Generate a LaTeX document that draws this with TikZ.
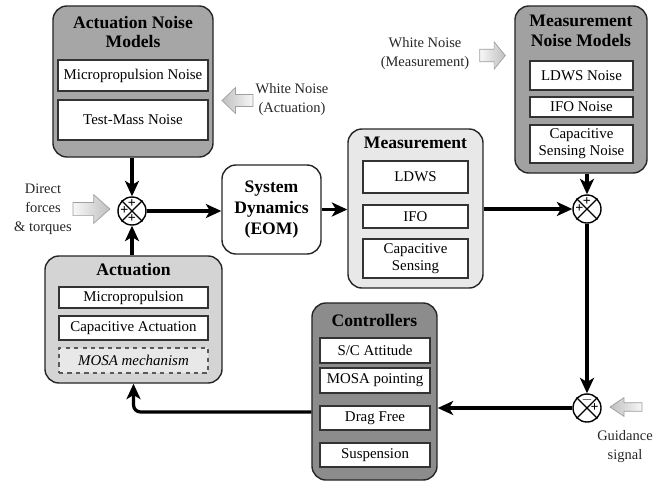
\documentclass[tikz,border=0pt]{standalone}
\usepackage{fontspec}
\setmainfont{Liberation Serif}
\usepackage{tikz}
\usetikzlibrary{positioning, arrows.meta, shapes.geometric, calc}

\begin{document}
\begin{tikzpicture}[
  x=0.025cm, y=-0.025cm,
  outer/.style={draw=black!85, line width=1pt, rounded corners=10pt},
  inbox/.style={draw=black!80, fill=white, line width=0.75pt, align=center,
               font=\fontsize{10.6}{12}\selectfont, inner sep=1pt},
  ttl/.style={font=\fontsize{12.5}{14.2}\selectfont\bfseries, align=center, inner sep=0pt},
  lbl/.style={font=\fontsize{10.3}{13.5}\selectfont, align=center, text=black!85},
  sumj/.style={circle, draw, fill=white, line width=1pt, minimum size=0.7cm, inner sep=0pt},
  sgn/.style={font=\fontsize{10}{10}\selectfont\bfseries, inner sep=0pt},
  flow/.style={line width=2.3pt, -{Stealth[length=11pt, width=10pt, inset=3pt]}},
  gright/.style={draw=gray!75, line width=0.5pt, left color=gray!6, right color=gray!50},
  gleft/.style={draw=gray!75, line width=0.5pt, left color=gray!50, right color=gray!6},
  rarrow/.pic={\path[pic actions] (-16,-6) -- (2,-6) -- (2,-13) -- (16,0) -- (2,13) -- (2,6) -- (-16,6) -- cycle;},
  larrow/.pic={\path[pic actions] (16,-6) -- (-2,-6) -- (-2,-13) -- (-16,0) -- (-2,13) -- (-2,6) -- (16,6) -- cycle;},
]
  \useasboundingbox (0,0) rectangle (665,481);

  % Actuation noise models
  \node[outer, fill=black!35, minimum width=4cm, minimum height=3.775cm] (anm) at (133,81.5) {};
  \node[ttl] (anmT) at (133,32) {Actuation Noise\\Models};
  \node[inbox, minimum width=3.75cm, minimum height=0.775cm] (mpn) at (133,75.5) {Micropropulsion Noise};
  \node[inbox, minimum width=3.75cm, minimum height=1cm] (tmn) at (133,120) {Test-Mass Noise};

  % Actuation
  \node[outer, fill=black!17, minimum width=4.425cm, minimum height=3.175cm] (act) at (133.5,319.5) {};
  \node[ttl] (actT) at (133.5,270) {Actuation};
  \node[inbox, minimum width=3.725cm, minimum height=0.525cm] (mp) at (133.5,297.5) {Micropropulsion};
  \node[inbox, minimum width=3.725cm, minimum height=0.6cm] (ca) at (133.5,328) {Capacitive Actuation};
  \node[inbox, draw=black!65, dashed, fill=black!9, minimum width=3.725cm, minimum height=0.625cm,
        font=\fontsize{10.6}{12}\selectfont\itshape] (mm) at (133.5,360.5) {MOSA mechanism};

  % System dynamics
  \node[outer, fill=white, minimum width=2.475cm, minimum height=2.225cm,
        font=\fontsize{12.5}{15.2}\selectfont\bfseries, align=center] (sd) at (271.5,209.5)
        {System\\Dynamics\\(EOM)};

  % Measurement
  \node[outer, fill=black!9, minimum width=3.375cm, minimum height=3.975cm] (meas) at (415.5,208.5) {};
  \node[ttl] (measT) at (415.5,143) {Measurement};
  \node[inbox, minimum width=2.625cm, minimum height=0.8cm] (ldws) at (415.5,177) {LDWS};
  \node[inbox, minimum width=2.625cm, minimum height=0.575cm] (ifo) at (415.5,216.5) {IFO};
  \node[inbox, minimum width=2.625cm, minimum height=0.975cm] (cs) at (415.5,258.5) {Capacitive\\Sensing};

  % Measurement noise models
  \node[outer, fill=black!37, minimum width=3.3cm, minimum height=4.175cm] (mnm) at (581,89.5) {};
  \node[ttl] (mnmT) at (581,31) {Measurement\\Noise Models};
  \node[inbox, minimum width=2.575cm, minimum height=0.725cm] (ldwsn) at (581.5,75.5) {LDWS Noise};
  \node[inbox, minimum width=2.575cm, minimum height=0.5cm] (ifon) at (581.5,107) {IFO Noise};
  \node[inbox, minimum width=2.575cm, minimum height=0.95cm] (csn) at (581.5,144) {Capacitive\\Sensing Noise};

  % Controllers
  \node[outer, fill=black!45, minimum width=3.125cm, minimum height=4.425cm] (ctrl) at (374.5,391.5) {};
  \node[ttl] (ctrlT) at (374.5,320) {Controllers};
  \node[inbox, minimum width=2.75cm, minimum height=0.625cm] (sca) at (375,350.5) {S/C Attitude};
  \node[inbox, minimum width=2.75cm, minimum height=0.625cm] (mosp) at (375,380.5) {MOSA pointing};
  \node[inbox, minimum width=2.75cm, minimum height=0.6cm] (dfc) at (375,418) {Drag Free};
  \node[inbox, minimum width=2.75cm, minimum height=0.6cm] (susp) at (375,455) {Suspension};

  % Summing junctions
  \node[sumj] (sj1) at (132,211) {};
  \node[sumj] (sj2) at (587,209) {};
  \node[sumj] (sj3) at (587,408) {};
  \foreach \s in {sj1, sj2, sj3} {
    \draw[line width=0.8pt] (\s.north west) -- (\s.south east);
    \draw[line width=0.8pt] (\s.north east) -- (\s.south west);
  }
  \node[sgn] (sj1a) at ([yshift=5.4pt]sj1.center) {+};
  \node[sgn] (sj1b) at ([xshift=-5.4pt]sj1.center) {+};
  \node[sgn] (sj1c) at ([yshift=-5.4pt]sj1.center) {+};
  \node[sgn] (sj2a) at ([yshift=5.4pt]sj2.center) {+};
  \node[sgn] (sj2b) at ([xshift=-5.4pt]sj2.center) {+};
  \node[sgn] (sj3a) at ([yshift=5.4pt]sj3.center) {$-$};
  \node[sgn] (sj3b) at ([xshift=5.4pt]sj3.center) {+};

  % External inputs
  \node[lbl] (dft) at (43,209) {Direct\\forces\\\& torques};
  \pic[gright, xscale=1.15, yscale=1.1] (dfa) at (91.5,209) {rarrow};
  \node[lbl] (wna) at (292,100) {White Noise\\(Actuation)};
  \pic[gleft, xscale=0.97] (wnaa) at (237.5,100.5) {larrow};
  \node[lbl] (wnm) at (425,54) {White Noise\\(Measurement)};
  \pic[gright, xscale=0.8, yscale=1.05] (wnma) at (492.5,55.5) {rarrow};
  \node[lbl] (gds) at (625,447) {Guidance\\signal};
  \pic[gleft, yscale=0.72] (gda) at (626,407) {larrow};

  % Signal flow
  \draw[flow] (anm.south -| sj1) -- (sj1.north);
  \draw[flow] (act.north -| sj1) -- (sj1.south);
  \draw[flow] (sj1.east) -- (sd.west |- sj1);
  \draw[flow] (sd.east) -- (meas.west |- sd);
  \draw[flow] (meas.east |- sj2) -- (sj2.west);
  \draw[flow] (mnm.south -| sj2) -- (sj2.north);
  \draw[flow] (sj2.south) -- (sj3.north);
  \draw[flow] (sj3.west) -- (ctrl.east |- sj3);
  \draw[flow, rounded corners=5pt] ($(ctrl.west)+(0,20.5)$) -| (act.south);
\end{tikzpicture}
\end{document}
